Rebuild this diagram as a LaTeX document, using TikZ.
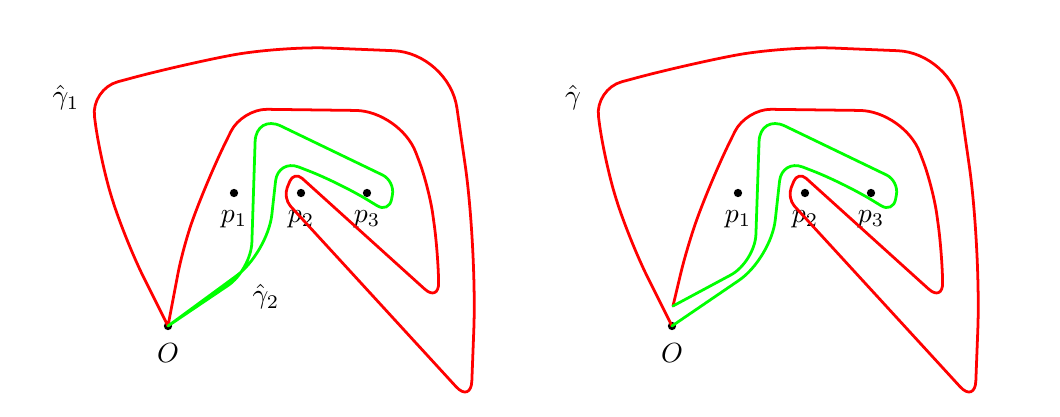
\documentclass[tikz,border=0pt]{standalone}
\usepackage{amssymb}
\usepackage{tikz}
\usetikzlibrary{positioning}

\tikzset{
  curve/.style={line width=1pt, line join=round, line cap=round},
  redcurve/.style={curve, red},
  greencurve/.style={curve, green},
  pt/.style={circle, fill, inner sep=0pt, minimum size=3pt},
}

\begin{document}
\begin{tikzpicture}[scale=0.127]
    \useasboundingbox (0,0) rectangle (106,41.7);

    % ---------- left picture ----------
    % points
    \node[pt] (O) at (16.8,9.1) {};
    \node[pt] (p1) at (23.4,22.4) {};
    \node[pt] (p2) at (30.1,22.4) {};
    \node[pt] (p3) at (36.7,22.4) {};
    \node[below=1pt of O] (lO) {$O$};
    \node[below=1pt of p1] (lp1) {$p_1$};
    \node[below=1pt of p2] (lp2) {$p_2$};
    \node[below=1pt of p3] (lp3) {$p_3$};

    % loop gamma 1
    \draw[redcurve] (O.center) [rounded corners=15pt] -- (12.5,17.7) [rounded corners=14pt] -- (10.0,25.7)
        [rounded corners=10pt] -- (9.1,32.8) [rounded corners=18pt] -- (18.0,35.2) -- (28.0,37.1)
        [rounded corners=20pt] -- (44.9,36.4) [rounded corners=30pt] -- (47.7,17.0)
        [rounded corners=8pt] -- (47.1,1.4) [rounded corners=4pt] -- (28.3,21.9) -- (29.4,24.6)
        [rounded corners=7pt] -- (43.9,11.5) [rounded corners=10pt] -- (43.8,16.5) -- (42.9,23.0)
        [rounded corners=16pt] -- (40.0,30.6) [rounded corners=9pt] -- (24.2,30.8)
        [rounded corners=15pt] -- (20.7,23.7) [rounded corners=10pt] -- (18.3,17.0) -- (O.center);
    \node (g1) at (6.6,31.9) {$\hat{\gamma}_1$};

    % loop gamma 2
    \draw[greencurve] (O.center) [rounded corners=10pt] -- (25.1,14.7) -- (25.6,30.3)
        [rounded corners=5pt] -- (39.5,23.6) -- (38.9,20.4) [rounded corners=12pt] -- (34.0,23.4)
        [rounded corners=8pt] -- (27.8,25.8) [rounded corners=14pt] -- (26.76,16.4) -- (O.center);
    \node (g2) at (26.6,12.0) {$\hat{\gamma}_2$};

    % ---------- right picture ----------
    \begin{scope}[shift={(50.4,0)}]
    % points
    \node[pt] (Or) at (16.8,9.1) {};
    \node[pt] (p1r) at (23.4,22.4) {};
    \node[pt] (p2r) at (30.1,22.4) {};
    \node[pt] (p3r) at (36.7,22.4) {};
    \coordinate (J) at (16.9,11.1);
    \node[below=1pt of Or] (lOr) {$O$};
    \node[below=1pt of p1r] (lp1r) {$p_1$};
    \node[below=1pt of p2r] (lp2r) {$p_2$};
    \node[below=1pt of p3r] (lp3r) {$p_3$};

    % product loop gamma
    \draw[redcurve] (Or.center) [rounded corners=15pt] -- (12.5,17.7) [rounded corners=14pt] -- (10.0,25.7)
        [rounded corners=10pt] -- (9.1,32.8) [rounded corners=18pt] -- (18.0,35.2) -- (28.0,37.1)
        [rounded corners=20pt] -- (44.9,36.4) [rounded corners=30pt] -- (47.7,17.0)
        [rounded corners=8pt] -- (47.1,1.4) [rounded corners=4pt] -- (28.3,21.9) -- (29.4,24.6)
        [rounded corners=7pt] -- (43.9,11.5) [rounded corners=10pt] -- (43.8,16.5) -- (42.9,23.0)
        [rounded corners=16pt] -- (40.0,30.6) [rounded corners=9pt] -- (24.2,30.8)
        [rounded corners=15pt] -- (20.7,23.7) [rounded corners=10pt] -- (18.3,17.0) -- (J);
    \draw[greencurve] (J) [rounded corners=10pt] -- (25.1,15.5) -- (25.6,30.3)
        [rounded corners=5pt] -- (39.5,23.6) -- (38.9,20.4) [rounded corners=12pt] -- (34.0,23.4)
        [rounded corners=8pt] -- (27.8,25.8) [rounded corners=14pt] -- (26.7,15.85) -- (Or.center);
    \node (g) at (6.9,31.9) {$\hat{\gamma}$};
    \end{scope}
\end{tikzpicture}
\end{document}
